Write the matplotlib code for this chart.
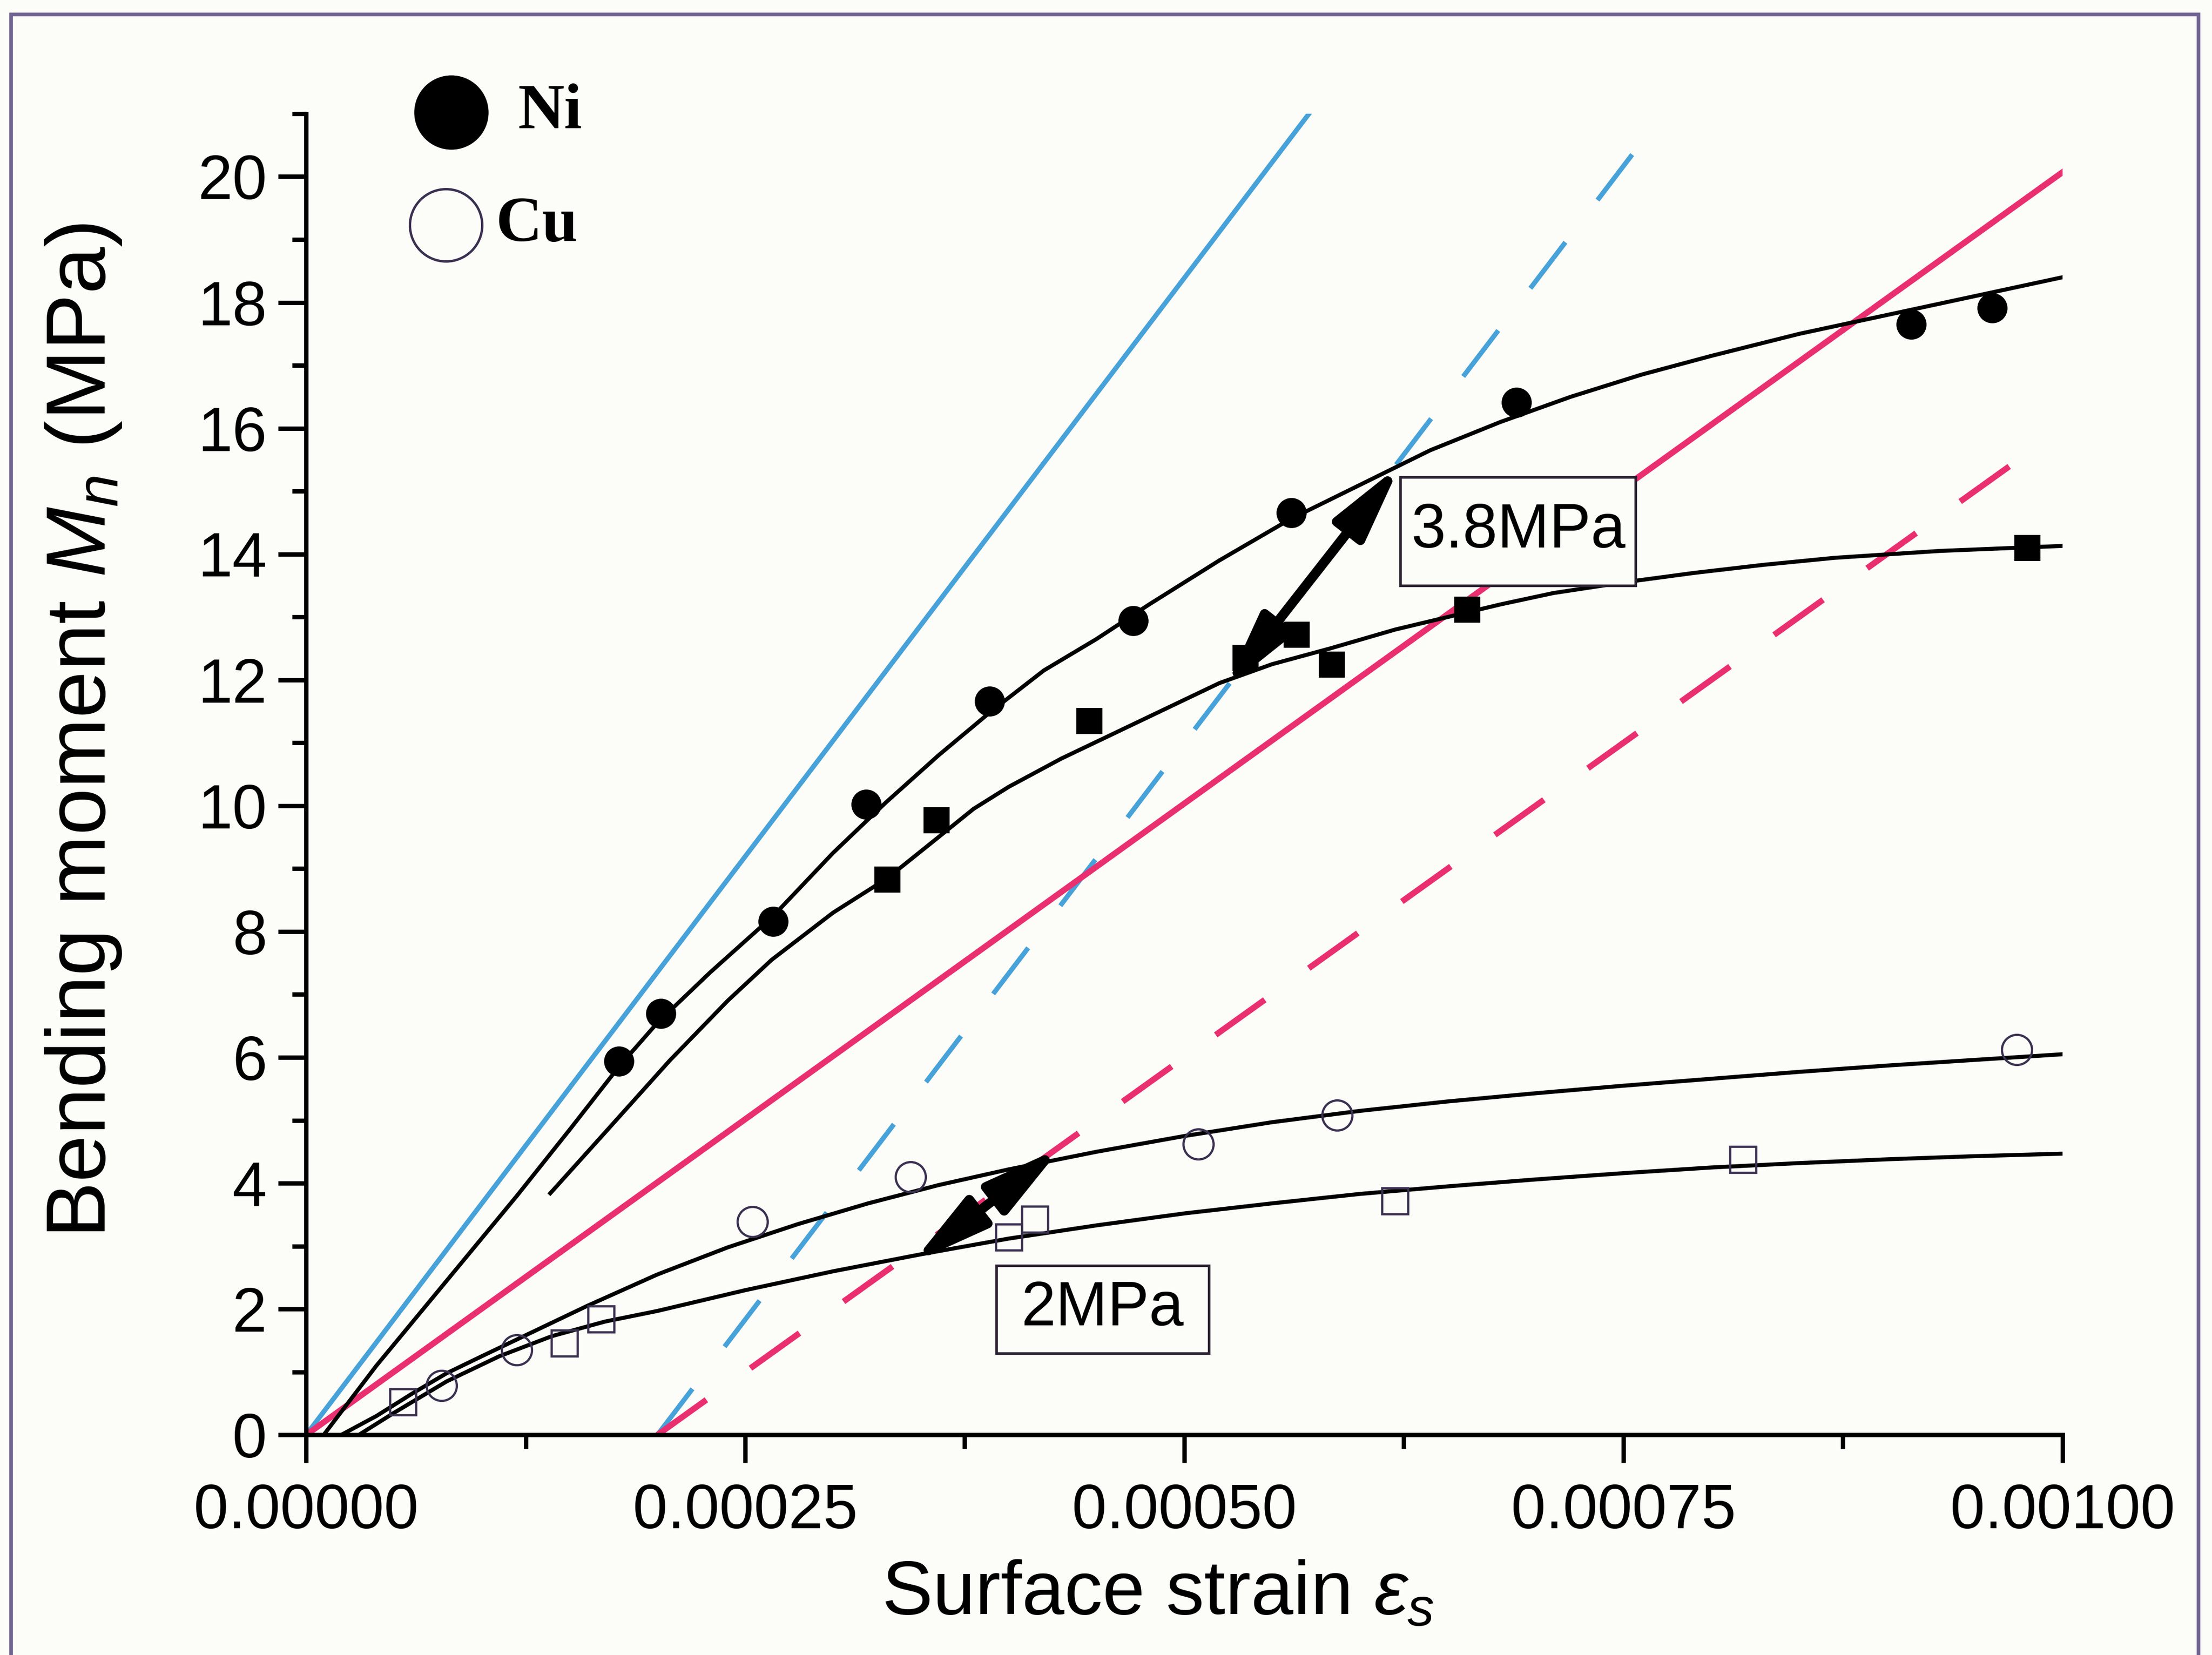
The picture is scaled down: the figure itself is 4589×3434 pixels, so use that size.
import matplotlib
matplotlib.use("Agg")
import matplotlib.pyplot as plt
from matplotlib.patches import Rectangle, FancyArrowPatch, ArrowStyle
from matplotlib.ticker import MultipleLocator

plt.rcParams['font.family'] = ['Liberation Sans', 'DejaVu Sans']
plt.rcParams['mathtext.fontset'] = 'custom'
plt.rcParams['mathtext.rm'] = 'Liberation Sans'
plt.rcParams['mathtext.it'] = 'Liberation Sans:italic'

# measured points (strain, bending moment in MPa)
ni_circle_x = [0.000178, 0.000202, 0.000266, 0.000319, 0.000389, 0.000471, 0.000561, 0.000689, 0.000914, 0.000960]
ni_circle_y = [5.94, 6.70, 8.16, 10.02, 11.66, 12.94, 14.66, 16.41, 17.65, 17.91]

ni_square_x = [0.000331, 0.000359, 0.000446, 0.000535, 0.000564, 0.000584, 0.000661, 0.000980]
ni_square_y = [8.83, 9.77, 11.35, 12.35, 12.72, 12.24, 13.12, 14.10]

cu_circle_x = [0.000077, 0.000120, 0.000254, 0.000344, 0.000508, 0.000587, 0.000974]
cu_circle_y = [0.78, 1.35, 3.39, 4.10, 4.62, 5.08, 6.12]

cu_square_x = [0.000055, 0.000147, 0.000168, 0.000400, 0.000415, 0.000620, 0.000818]
cu_square_y = [0.52, 1.46, 1.84, 3.14, 3.43, 3.72, 4.38]

# fitted curves
ni_fit1_x = [0.00001, 0.00004, 0.00008, 0.00012, 0.00015, 0.000178, 0.0002, 0.00023, 0.000266,
             0.0003, 0.00033, 0.00036, 0.00039, 0.00042, 0.00045, 0.00048, 0.00052, 0.00056,
             0.0006, 0.00064, 0.00068, 0.00072, 0.00076, 0.0008, 0.00085, 0.0009, 0.00095, 0.001]
ni_fit1_y = [0.0, 1.1, 2.45, 3.8, 4.85, 5.85, 6.55, 7.35, 8.25,
             9.25, 10.05, 10.8, 11.5, 12.15, 12.65, 13.2, 13.9, 14.55,
             15.1, 15.65, 16.1, 16.5, 16.85, 17.15, 17.5, 17.8, 18.1, 18.4]

ni_fit2_x = [0.000139, 0.00017, 0.000207, 0.00024, 0.000265, 0.0003, 0.000331, 0.00036, 0.00038,
             0.0004, 0.00043, 0.00046, 0.00049, 0.00052, 0.00055, 0.000583, 0.00062, 0.00065,
             0.00068, 0.00071, 0.00075, 0.00079, 0.00083, 0.00087, 0.00093, 0.001]
ni_fit2_y = [3.84, 4.8, 5.95, 6.9, 7.55, 8.3, 8.85, 9.5, 9.95,
             10.3, 10.75, 11.15, 11.55, 11.95, 12.25, 12.5, 12.8, 13.0,
             13.2, 13.38, 13.55, 13.7, 13.83, 13.94, 14.05, 14.13]

cu_fit1_x = [0.00002, 0.00004, 0.00006, 0.00008, 0.0001, 0.00013, 0.00016, 0.0002, 0.00024,
             0.00028, 0.00032, 0.00036, 0.0004, 0.00045, 0.0005, 0.00055, 0.0006, 0.00065,
             0.0007, 0.00075, 0.0008, 0.00085, 0.0009, 0.00095, 0.001]
cu_fit1_y = [0.0, 0.3, 0.65, 0.98, 1.25, 1.65, 2.05, 2.55, 2.98,
             3.35, 3.68, 3.97, 4.22, 4.5, 4.75, 4.97, 5.15, 5.3,
             5.43, 5.55, 5.66, 5.77, 5.87, 5.96, 6.05]

cu_fit2_x = [0.00003, 0.00005, 0.00008, 0.00011, 0.00014, 0.00017, 0.0002, 0.00025, 0.0003,
             0.00035, 0.0004, 0.00045, 0.0005, 0.00055, 0.0006, 0.00065, 0.0007, 0.00075,
             0.0008, 0.00085, 0.0009, 0.00095, 0.001]
cu_fit2_y = [0.0, 0.35, 0.85, 1.25, 1.57, 1.8, 1.97, 2.3, 2.6,
             2.87, 3.12, 3.33, 3.52, 3.68, 3.83, 3.95, 4.06, 4.16,
             4.25, 4.32, 4.38, 4.43, 4.47]

# elastic lines and offset lines
blue_x = [0.0, 0.000571]
blue_y = [0.0, 21.0]
blue_off_x = [0.0002, 0.000755]
blue_off_y = [0.0, 20.35]
pink_x = [0.0, 0.001]
pink_y = [0.0, 20.07]
pink_off_x = [0.0002, 0.00098]
pink_off_y = [0.0, 15.6]

# annotations
arrow_ni = [(0.000523, 11.85), (0.000623, 15.42)]
arrow_cu = [(0.000345, 2.73), (0.000430, 4.57)]
box_ni = (0.000623, 13.50, 0.000757, 15.22)
box_cu = (0.000393, 1.30, 0.000514, 2.69)
label_ni = "3.8MPa"
label_cu = "2MPa"

x_ticks = [0.0, 0.00025, 0.0005, 0.00075, 0.001]
x_tick_labels = ["0.00000", "0.00025", "0.00050", "0.00075", "0.00100"]
y_ticks = [0, 2, 4, 6, 8, 10, 12, 14, 16, 18, 20]

bg = '#fcfcf8'
blue = '#46a2d9'
pink = '#ea2f70'

fig = plt.figure(figsize=(4589 / 300, 3434 / 300), dpi=300, facecolor=bg)
ax = fig.add_axes([0.1384, 0.1330, 0.7940, 0.7983])
ax.set_facecolor(bg)

ax.plot(blue_x, blue_y, color=blue, lw=2.4, zorder=2)
ax.plot(blue_off_x, blue_off_y, color=blue, lw=2.4, dashes=(12, 11), zorder=2)
ax.plot(pink_x, pink_y, color=pink, lw=3.0, zorder=2)
ax.plot(pink_off_x, pink_off_y, color=pink, lw=3.0, dashes=(10, 9), zorder=2)

for fx, fy in [(ni_fit1_x, ni_fit1_y), (ni_fit2_x, ni_fit2_y),
               (cu_fit1_x, cu_fit1_y), (cu_fit2_x, cu_fit2_y)]:
    ax.plot(fx, fy, color='black', lw=2.0, solid_joinstyle='round', zorder=3)

ax.plot(ni_circle_x, ni_circle_y, 'o', ms=14, color='black', zorder=4)
ax.plot(ni_square_x, ni_square_y, 's', ms=12, color='black', zorder=4)
ax.plot(cu_circle_x, cu_circle_y, 'o', ms=15, mfc='none', mec='#3a3050', mew=1.1, zorder=4)
ax.plot(cu_square_x, cu_square_y, 's', ms=13, mfc='none', mec='#3a3050', mew=1.1, zorder=4)

style = ArrowStyle('<|-|>', head_length=1.05, head_width=0.25)
for a, b in [arrow_ni, arrow_cu]:
    ax.add_patch(FancyArrowPatch(a, b, arrowstyle=style, mutation_scale=30, lw=4.8,
                                 color='black', shrinkA=0, shrinkB=0, zorder=5))

for (x0, y0, x1, y1), txt in [(box_ni, label_ni), (box_cu, label_cu)]:
    ax.add_patch(Rectangle((x0, y0), x1 - x0, y1 - y0, facecolor=bg, edgecolor='#2a2030',
                           lw=1.3, zorder=6))
    ax.text((x0 + x1) / 2, (y0 + y1) / 2, txt, fontsize=31, ha='center', va='center', zorder=7)

# legend drawn by hand
ax.plot([0.0827], [1.001], 'o', ms=36, color='black', transform=ax.transAxes, clip_on=False)
ax.plot([0.0795], [0.9156], 'o', ms=36, mfc='none', mec='#3a3050', mew=1.2,
        transform=ax.transAxes, clip_on=False)
ax.text(0.1205, 1.001, "Ni", family='Liberation Serif', weight='bold', fontsize=32,
        va='center', ha='left', transform=ax.transAxes)
ax.text(0.108, 0.9156, "Cu", family='Liberation Serif', weight='bold', fontsize=32,
        va='center', ha='left', transform=ax.transAxes)

ax.set_xlim(0, 0.001)
ax.set_ylim(0, 21)
ax.set_xticks(x_ticks)
ax.set_xticklabels(x_tick_labels)
ax.set_yticks(y_ticks)
ax.xaxis.set_minor_locator(MultipleLocator(0.000125))
ax.yaxis.set_minor_locator(MultipleLocator(1))

for s in ['top', 'right']:
    ax.spines[s].set_visible(False)
for s in ['left', 'bottom']:
    ax.spines[s].set_linewidth(2.2)

ax.tick_params(which='major', direction='out', length=14, width=2.2, labelsize=31)
ax.tick_params(which='minor', direction='out', length=7, width=2.2)
ax.tick_params(axis='x', which='major', pad=10)
ax.tick_params(axis='y', which='major', pad=5.5)

ax.set_xlabel(r'Surface strain $\varepsilon_s$', fontsize=38)
ax.set_ylabel(r'Bending moment $M_n$ (MPa)', fontsize=42)
ax.xaxis.set_label_coords(0.485, -0.094)
ax.yaxis.set_label_coords(-0.104, 0.533)

# scan frame
fig.add_artist(Rectangle((0.005, -0.02), 0.989, 1.0113, transform=fig.transFigure, fill=False,
                         edgecolor='#6f6290', lw=1.8))

fig.savefig("out.png", dpi=300, facecolor=bg)
